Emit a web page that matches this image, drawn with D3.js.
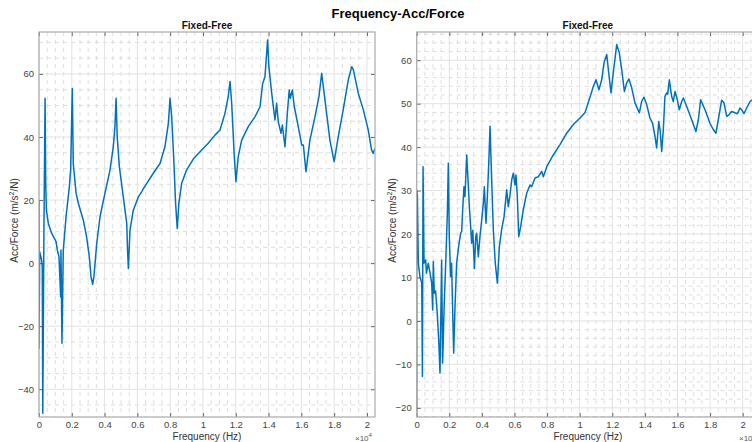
<!DOCTYPE html>
<html>
<head>
<meta charset="utf-8">
<script src="https://cdn.jsdelivr.net/npm/d3@7"></script>
<style>
  body { margin: 0; background: #fff; }
  svg { display: block; font-family: "Liberation Sans", Arial, Helvetica, sans-serif; }
</style>
</head>
<body>
<svg id="chart" width="752" height="442"></svg>
<script>
// frequency in units of 1e4 Hz, values in m/s^2/N
let leftFreq = [0, 0, 0.004, 0.016, 0.02, 0.023, 0.03, 0.037, 0.041, 0.045, 0.057, 0.077, 0.104, 0.112, 0.122, 0.132, 0.134, 0.14, 0.148,
  0.165, 0.185, 0.193, 0.203, 0.209, 0.226, 0.24, 0.27, 0.29, 0.307, 0.317, 0.327, 0.335, 0.352, 0.372, 0.402, 0.433, 0.453,
  0.463, 0.47, 0.477, 0.49, 0.514, 0.535, 0.54, 0.545, 0.555, 0.575, 0.606, 0.626, 0.632, 0.657, 0.697, 0.738, 0.768, 0.789,
  0.799, 0.809, 0.823, 0.833, 0.843, 0.853, 0.87, 0.9, 0.941, 0.982, 1.032, 1.073, 1.104, 1.134, 1.154, 1.165, 1.175, 1.191,
  1.201, 1.215, 1.236, 1.276, 1.317, 1.348, 1.364, 1.378, 1.394, 1.402, 1.419, 1.439, 1.449, 1.459, 1.476, 1.484, 1.5, 1.516,
  1.526, 1.532, 1.545, 1.557, 1.581, 1.602, 1.612, 1.628, 1.652, 1.683, 1.707, 1.724, 1.744, 1.774, 1.8, 1.825, 1.855, 1.886,
  1.907, 1.917, 1.947, 1.978, 2.008, 2.028, 2.038, 2.049];
let leftVals = [20, -27, 3.6, 1, -1, -47.6, 10, 52.3, 25, 16.8, 12.6, 9.5, 6.8, 4.1, 2, -10.7, 4.2, -25.4, 4,
  14.7, 24.2, 29.5, 55.4, 31.6, 22.2, 19, 13.7, 8.4, 2, -4.3, -6.7, -4.3, 6.2, 14.7, 22.1, 29.5, 36.9,
  43.3, 52.3, 40.1, 30.6, 21, 12.6, 4.1, -1.7, 10.5, 16.8, 21, 22.6, 23.2, 25.3, 28.5, 31.6, 36.9, 44.3,
  52.3, 46.6, 31.6, 19, 11, 19, 25.3, 29.5, 33, 35.3, 38, 40.6, 42.2, 47.5, 52.8, 57.6, 50.7, 33.8,
  25.8, 33.8, 39, 43.3, 46.4, 49.6, 57, 59.1, 70.8, 62.3, 53.9, 45.4, 50.7, 44.9, 41.2, 43.8, 36.9, 48.6,
  54.9, 52.3, 54.9, 49.6, 43.3, 37.5, 37.5, 29, 39, 46.4, 52.8, 60.2, 51.7, 39, 32.2, 40.1, 48.6, 58.1,
  62.3, 61.3, 53.9, 48.6, 42.2, 35.9, 34.8, 36.4];

let rightFreq = [0, 0, 0.004, 0.01, 0.02, 0.031, 0.035, 0.039, 0.045, 0.055, 0.06, 0.071, 0.082, 0.092, 0.098, 0.102, 0.108, 0.116,
  0.126, 0.135, 0.143, 0.153, 0.159, 0.169, 0.178, 0.188, 0.194, 0.2, 0.208, 0.214, 0.221, 0.227, 0.235, 0.245, 0.26, 0.27,
  0.276, 0.282, 0.29, 0.296, 0.307, 0.317, 0.323, 0.331, 0.337, 0.344, 0.354, 0.362, 0.368, 0.378, 0.388, 0.399, 0.409, 0.415,
  0.425, 0.433, 0.442, 0.45, 0.458, 0.47, 0.482, 0.495, 0.507, 0.521, 0.536, 0.552, 0.562, 0.572, 0.583, 0.593, 0.603, 0.609,
  0.617, 0.626, 0.638, 0.654, 0.675, 0.695, 0.705, 0.726, 0.746, 0.767, 0.777, 0.798, 0.838, 0.879, 0.92, 0.961, 1.002, 1.033,
  1.063, 1.084, 1.1, 1.118, 1.135, 1.149, 1.166, 1.176, 1.192, 1.206, 1.227, 1.243, 1.258, 1.274, 1.288, 1.302, 1.318, 1.339,
  1.366, 1.38, 1.394, 1.411, 1.431, 1.447, 1.462, 1.472, 1.485, 1.493, 1.503, 1.513, 1.523, 1.534, 1.54, 1.55, 1.564, 1.574,
  1.585, 1.599, 1.611, 1.626, 1.636, 1.656, 1.687, 1.713, 1.728, 1.742, 1.769, 1.799, 1.82, 1.836, 1.85, 1.871, 1.885, 1.902,
  1.917, 1.932, 1.953, 1.968, 1.983, 1.994, 2.008, 2.024, 2.045, 2.059];
let rightVals = [-21, 30, 29, 13.3, 10.2, 8.7, -12.8, 35.5, 13.3, 14, 11, 13.3, 11, 8.7, 2.5, 13.7, 6.4, 6.9,
  1.8, -4.4, -12, 14, -9.7, 4.1, 13.3, 24.8, 36.3, 19.4, 10.2, 13.3, 1.8, -7.4, 3.3, 13.3, 17.9, 20.2,
  20.6, 25.6, 30.9, 28.6, 38.2, 30.9, 26.3, 21.7, 17.9, 20.9, 12.1, 19.4, 20.2, 14.8, 19.4, 23.3, 27.1, 30.9,
  22.5, 28.2, 36.3, 44.8, 34.8, 21, 13.3, 8.7, 17.1, 21, 24, 30.2, 26.3, 28.9, 32.5, 34, 31.3, 33.6,
  28.9, 19.4, 21.7, 25.6, 29.4, 31.3, 30.9, 32.9, 33.2, 34.4, 33.2, 35.5, 38.2, 40.6, 43.2, 45.2, 46.7, 48,
  51.5, 54, 55.5, 53.2, 55.5, 59.4, 61.3, 57.8, 52.5, 57.1, 63.6, 61.7, 57.8, 52.8, 54.8, 55.7, 53.8, 50.2,
  47.9, 50.5, 51.5, 49.8, 46.7, 45.5, 42.5, 39.8, 45.9, 44, 39, 44, 51.7, 52.5, 52.2, 55.5, 51.7, 50.5,
  52.8, 50.9, 48.6, 50.5, 51.3, 49.4, 46.3, 43.6, 46.3, 50.9, 48.6, 45.5, 44, 43.2, 46.3, 50.8, 50.2, 47.1,
  47.5, 48.2, 47.9, 47.7, 49, 48.6, 47.7, 49, 50.5, 50.9];

let xTicks = [0, 0.2, 0.4, 0.6, 0.8, 1, 1.2, 1.4, 1.6, 1.8, 2];
let leftYTicks = [-40, -20, 0, 20, 40, 60];
let rightYTicks = [-20, -10, 0, 10, 20, 30, 40, 50, 60];

let svg = d3.select('#chart');
let plotTop = 32, plotBottom = 417;

//Main title
svg.append('text')
   .attr('x', 398).attr('y', 18)
   .attr('text-anchor', 'middle')
   .style('font-size', '13px').style('font-weight', 'bold').style('fill', '#000')
   .text('Frequency-Acc/Force');

function drawPanel(opt) {
  let x = d3.scaleLinear().domain(opt.xDomain).range([opt.left, opt.right]);
  let y = d3.scaleLinear().domain(opt.yDomain).range([plotBottom, plotTop]);
  let g = svg.append('g');
  let clipId = 'clip' + Math.round(opt.left);

  g.append('clipPath').attr('id', clipId)
   .append('rect')
   .attr('x', opt.left).attr('y', plotTop)
   .attr('width', opt.right - opt.left).attr('height', plotBottom - plotTop);

  //minor grid (dashed)
  let xMinor = d3.range(0, opt.xDomain[1], 0.05).filter(v => Math.abs(v / 0.2 - Math.round(v / 0.2)) > 0.01);
  let yMinor = d3.range(Math.ceil(opt.yDomain[0] / opt.yMinor) * opt.yMinor, opt.yDomain[1], opt.yMinor)
                 .filter(v => Math.abs(v % opt.yMajor) > 0.01);
  g.selectAll('.xminor').data(xMinor).join('line')
   .attr('x1', d => x(d)).attr('x2', d => x(d))
   .attr('y1', plotTop).attr('y2', plotBottom)
   .style('stroke', '#d6d6d6').style('stroke-dasharray', '4,4').style('stroke-width', 0.8);
  g.selectAll('.yminor').data(yMinor).join('line')
   .attr('x1', opt.left).attr('x2', opt.right)
   .attr('y1', d => y(d)).attr('y2', d => y(d))
   .style('stroke', '#d6d6d6').style('stroke-dasharray', '4,4').style('stroke-width', 0.8);

  //major grid
  g.selectAll('.xmajor').data(xTicks).join('line')
   .attr('x1', d => x(d)).attr('x2', d => x(d))
   .attr('y1', plotTop).attr('y2', plotBottom)
   .style('stroke', '#e2e2e2').style('stroke-width', 1);
  g.selectAll('.ymajor').data(opt.yTicks).join('line')
   .attr('x1', opt.left).attr('x2', opt.right)
   .attr('y1', d => y(d)).attr('y2', d => y(d))
   .style('stroke', '#e2e2e2').style('stroke-width', 1);

  //curve
  let pts = opt.freq.map((f, i) => [f, opt.vals[i]]);
  g.append('path')
   .datum(pts)
   .attr('clip-path', `url(#${clipId})`)
   .attr('d', d3.line().x(d => x(d[0])).y(d => y(d[1])))
   .style('fill', 'none').style('stroke', '#0072BD').style('stroke-width', 1.5)
   .style('stroke-linejoin', 'round');

  //axes (ticks inward)
  let fmt = d => d3.format('~g')(d);
  let xAxis = g.append('g').attr('transform', `translate(0,${plotBottom})`)
   .call(d3.axisBottom(x).tickValues(xTicks).tickFormat(fmt).tickSizeInner(-4).tickSizeOuter(0).tickPadding(4));
  let xTop = g.append('g').attr('transform', `translate(0,${plotTop})`)
   .call(d3.axisTop(x).tickValues(xTicks).tickFormat('').tickSizeInner(-4).tickSizeOuter(0));
  let yAxis = g.append('g').attr('transform', `translate(${opt.left},0)`)
   .call(d3.axisLeft(y).tickValues(opt.yTicks).tickFormat(fmt).tickSizeInner(-4).tickSizeOuter(0).tickPadding(5));
  let yRight = g.append('g').attr('transform', `translate(${opt.right},0)`)
   .call(d3.axisRight(y).tickValues(opt.yTicks).tickFormat('').tickSizeInner(-4).tickSizeOuter(0));
  [xAxis, xTop, yAxis, yRight].forEach(a => {
    a.select('.domain').remove();
    a.selectAll('line').style('stroke', '#444').style('stroke-width', 0.8);
    a.selectAll('text').style('fill', '#444').style('font-size', '9.5px')
     .style('font-family', '"Liberation Sans", Arial, sans-serif');
  });

  //box
  g.append('rect')
   .attr('x', opt.left).attr('y', plotTop)
   .attr('width', opt.right - opt.left).attr('height', plotBottom - plotTop)
   .style('fill', 'none').style('stroke', '#aaaaaa').style('stroke-width', 1.2);

  //subtitle
  let cx = (opt.left + opt.right) / 2;
  svg.append('text')
     .attr('x', cx).attr('y', 29)
     .attr('text-anchor', 'middle')
     .style('font-size', '10px').style('font-weight', 'bold').style('fill', '#111')
     .text('Fixed-Free');

  //x label
  svg.append('text')
     .attr('x', cx).attr('y', 440)
     .attr('text-anchor', 'middle')
     .style('font-size', '10px').style('fill', '#333')
     .text('Frequency (Hz)');

  //exponent
  let ex = svg.append('text')
     .attr('x', opt.right - 20).attr('y', 441)
     .style('font-size', '8px').style('fill', '#555');
  ex.append('tspan').text('\u00d710');
  ex.append('tspan').attr('dy', -4).style('font-size', '6px').text('4');

  //y label
  let yl = svg.append('text')
     .attr('transform', `translate(${opt.yLabelX},${(plotTop + plotBottom) / 2 - 4}) rotate(-90)`)
     .attr('text-anchor', 'middle')
     .style('font-size', '10px').style('fill', '#333');
  yl.append('tspan').text('Acc/Force (m/s');
  yl.append('tspan').attr('dy', -4).style('font-size', '7px').text('2');
  yl.append('tspan').attr('dy', 4).text('/N)');
}

drawPanel({left: 39, right: 375, xDomain: [0, 2.049], yDomain: [-48.8, 73.3],
           yTicks: leftYTicks, yMajor: 20, yMinor: 5, freq: leftFreq, vals: leftVals, yLabelX: 18});
drawPanel({left: 416.7, right: 759, xDomain: [0, 2.1], yDomain: [-22.1, 66.5],
           yTicks: rightYTicks, yMajor: 10, yMinor: 2, freq: rightFreq, vals: rightVals, yLabelX: 396});
</script>
</body>
</html>
